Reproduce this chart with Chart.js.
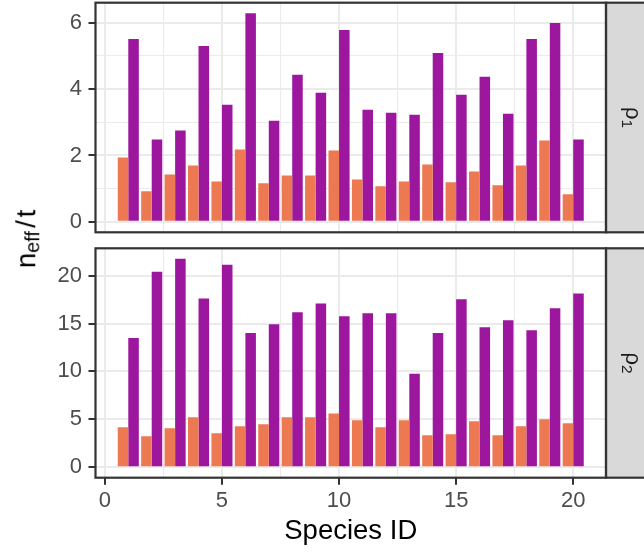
<!DOCTYPE html>
<html>
<head>
<meta charset="utf-8">
<script src="https://cdn.jsdelivr.net/npm/chart.js@4/dist/chart.umd.min.js"></script>
<style>
  html, body { margin: 0; padding: 0; background: #ffffff; }
  #wrap { position: relative; width: 644px; height: 552px; overflow: hidden; background: #ffffff; }
  canvas { position: absolute; left: 0; }
  #panelTop { top: 0; width: 644px; height: 240px; }
  #panelBottom { top: 240px; width: 644px; height: 312px; }
  #ytitle {
    position: absolute; left: 26px; top: 239px;
    transform: translate(-50%, -50%) rotate(-90deg);
    font-family: 'Liberation Sans', Arial, sans-serif; font-size: 27.5px;
    line-height: 1; white-space: nowrap; color: #000000;
  }
  #ytitle sub { font-size: 0.72em; vertical-align: baseline; position: relative; top: 0.2em; }
  #ytitle .slash { margin: 0 0.1em 0 0.12em; }
</style>
</head>
<body>
<div id="wrap">
  <canvas id="panelTop" width="644" height="240"></canvas>
  <canvas id="panelBottom" width="644" height="312"></canvas>
  <div id="ytitle">n<sub>eff</sub><span class="slash">/</span>t</div>
</div>
<script>
// Species identifiers on the x axis
const speciesIds = [1, 2, 3, 4, 5, 6, 7, 8, 9, 10, 11, 12, 13, 14, 15, 16, 17, 18, 19, 20];

// n_eff / t for parameter rho_1
const rho1SeriesA = [1.94, 0.92, 1.43, 1.70, 1.22, 2.18, 1.16, 1.40, 1.40, 2.15,
                     1.28, 1.07, 1.22, 1.73, 1.19, 1.52, 1.10, 1.70, 2.45, 0.83];
const rho1SeriesB = [5.51, 2.48, 2.75, 5.30, 3.53, 6.29, 3.05, 4.43, 3.89, 5.78,
                     3.38, 3.29, 3.23, 5.09, 3.83, 4.37, 3.26, 5.51, 5.99, 2.48];

// n_eff / t for parameter rho_2
const rho2SeriesA = [4.17, 3.24, 4.07, 5.21, 3.55, 4.28, 4.48, 5.21, 5.21, 5.62,
                     4.90, 4.17, 4.90, 3.34, 3.45, 4.79, 3.34, 4.28, 5.00, 4.59];
const rho2SeriesB = [13.48, 20.41, 21.76, 17.62, 21.14, 14.00, 14.93, 16.17, 17.10, 15.76,
                     16.07, 16.07, 9.76, 14.00, 17.52, 14.62, 15.34, 14.31, 16.59, 18.14];

// Axis breaks
const speciesTicks = [0, 5, 10, 15, 20];
const rho1Ticks = [0, 2, 4, 6];
const rho2Ticks = [0, 5, 10, 15, 20];

// Facet strip labels (symbol + subscript)
const stripSymbols = ['\u03C1', '\u03C1'];
const stripSubscripts = ['1', '2'];

const FONT = "'Liberation Sans', Arial, sans-serif";
const COLOR_A = '#ED7953';
const COLOR_B = '#9C179E';
const GRID = '#EBEBEB';
const DARK = '#333333';

// Major breaks plus the minor breaks half way between them
function withMinor(major) {
  const out = major.slice();
  for (let i = 0; i < major.length - 1; i++) out.push((major[i] + major[i + 1]) / 2);
  return out.sort((a, b) => a - b);
}

// 5% expansion on either side of the data range
function expand(lo, hi) {
  const pad = 0.05 * (hi - lo);
  return [lo - pad, hi + pad];
}

const [xMin, xMax] = [-0.4, 21.4];

// Panel border + facet strip on the right
const panelFrame = {
  id: 'panelFrame',
  afterDraw(chart, args, opts) {
    const { ctx, chartArea: { left, top, right, bottom } } = chart;
    ctx.save();
    ctx.fillStyle = '#D9D9D9';
    ctx.fillRect(right, top, 60, bottom - top);
    ctx.strokeStyle = DARK;
    ctx.lineWidth = 2.2;
    ctx.strokeRect(right, top, 60, bottom - top);
    ctx.strokeRect(left, top, right - left, bottom - top);

    // rotated strip text, reading downward
    const cy = (top + bottom) / 2;
    ctx.translate(right + 19.5, cy);
    ctx.rotate(Math.PI / 2);
    ctx.fillStyle = '#1A1A1A';
    ctx.textBaseline = 'alphabetic';
    ctx.textAlign = 'left';
    const mainFont = '22px ' + FONT;
    const subFont = '15.5px ' + FONT;
    ctx.font = mainFont;
    const wMain = ctx.measureText(opts.symbol).width;
    ctx.font = subFont;
    const wSub = ctx.measureText(opts.sub).width;
    const x0 = -(wMain + wSub) / 2;
    ctx.font = mainFont;
    ctx.fillText(opts.symbol, x0, 0);
    ctx.font = subFont;
    ctx.fillText(opts.sub, x0 + wMain, 4);
    ctx.restore();
  }
};

function gridLineWidth(majors) {
  return ctx => (ctx.tick && majors.includes(ctx.tick.value)) ? 2 : 1.1;
}
function tickMarkColor(majors) {
  return ctx => (ctx.tick && majors.includes(ctx.tick.value)) ? DARK : 'rgba(0,0,0,0)';
}

function makePanel(canvasId, seriesA, seriesB, yTicks, stripIdx, showX) {
  const [yMin, yMax] = expand(0, Math.max(...seriesA, ...seriesB));
  const pad = showX
    ? { top: 8.3, right: 38, bottom: 0, left: 0 }
    : { top: 2.7, right: 38, bottom: 7.7, left: 0 };

  return new Chart(document.getElementById(canvasId), {
    type: 'bar',
    data: {
      datasets: [
        {
          data: speciesIds.map((s, i) => ({ x: s, y: seriesA[i] })),
          backgroundColor: COLOR_A, borderWidth: 0,
          categoryPercentage: 0.9, barPercentage: 1.0
        },
        {
          data: speciesIds.map((s, i) => ({ x: s, y: seriesB[i] })),
          backgroundColor: COLOR_B, borderWidth: 0,
          categoryPercentage: 0.9, barPercentage: 1.0
        }
      ]
    },
    options: {
      responsive: false,
      maintainAspectRatio: false,
      animation: false,
      devicePixelRatio: 1,
      layout: { padding: pad },
      plugins: {
        legend: { display: false },
        tooltip: { enabled: false },
        panelFrame: { symbol: stripSymbols[stripIdx], sub: stripSubscripts[stripIdx] }
      },
      scales: {
        x: {
          type: 'linear',
          min: xMin, max: xMax,
          offset: false,
          afterBuildTicks: ax => { ax.ticks = withMinor(speciesTicks).map(v => ({ value: v })); },
          afterFit: ax => {
            ax.height = showX ? 74.3 : 0;
            ax.paddingLeft = 0; ax.paddingRight = 0;
            ax.paddingTop = 0; ax.paddingBottom = 0;
          },
          ticks: {
            display: showX,
            autoSkip: false, maxRotation: 0, minRotation: 0,
            padding: 3,
            color: '#4D4D4D',
            font: { family: FONT, size: 22 },
            callback: v => speciesTicks.includes(v) ? String(v) : ''
          },
          grid: {
            offset: false,
            color: GRID,
            lineWidth: gridLineWidth(speciesTicks),
            drawTicks: showX,
            tickLength: 7,
            tickWidth: 2,
            tickColor: tickMarkColor(speciesTicks)
          },
          border: { display: false },
          title: {
            display: showX,
            text: 'Species ID',
            color: '#000000',
            font: { family: FONT, size: 27.5 },
            padding: { top: 0, bottom: 3.8 }
          }
        },
        y: {
          type: 'linear',
          min: yMin, max: yMax,
          stacked: false,
          afterBuildTicks: ax => { ax.ticks = withMinor(yTicks).map(v => ({ value: v })); },
          afterFit: ax => {
            ax.width = 95.5;
            ax.paddingLeft = 0; ax.paddingRight = 0;
            ax.paddingTop = 0; ax.paddingBottom = 0;
          },
          ticks: {
            padding: 6.5,
            color: '#4D4D4D',
            font: { family: FONT, size: 22 },
            callback: v => yTicks.includes(v) ? String(v) : ''
          },
          grid: {
            color: GRID,
            lineWidth: gridLineWidth(yTicks),
            drawTicks: true,
            tickLength: 7,
            tickWidth: 2,
            tickColor: tickMarkColor(yTicks)
          },
          border: { display: false }
        }
      }
    },
    plugins: [panelFrame]
  });
}

makePanel('panelTop', rho1SeriesA, rho1SeriesB, rho1Ticks, 0, false);
makePanel('panelBottom', rho2SeriesA, rho2SeriesB, rho2Ticks, 1, true);
</script>
</body>
</html>
